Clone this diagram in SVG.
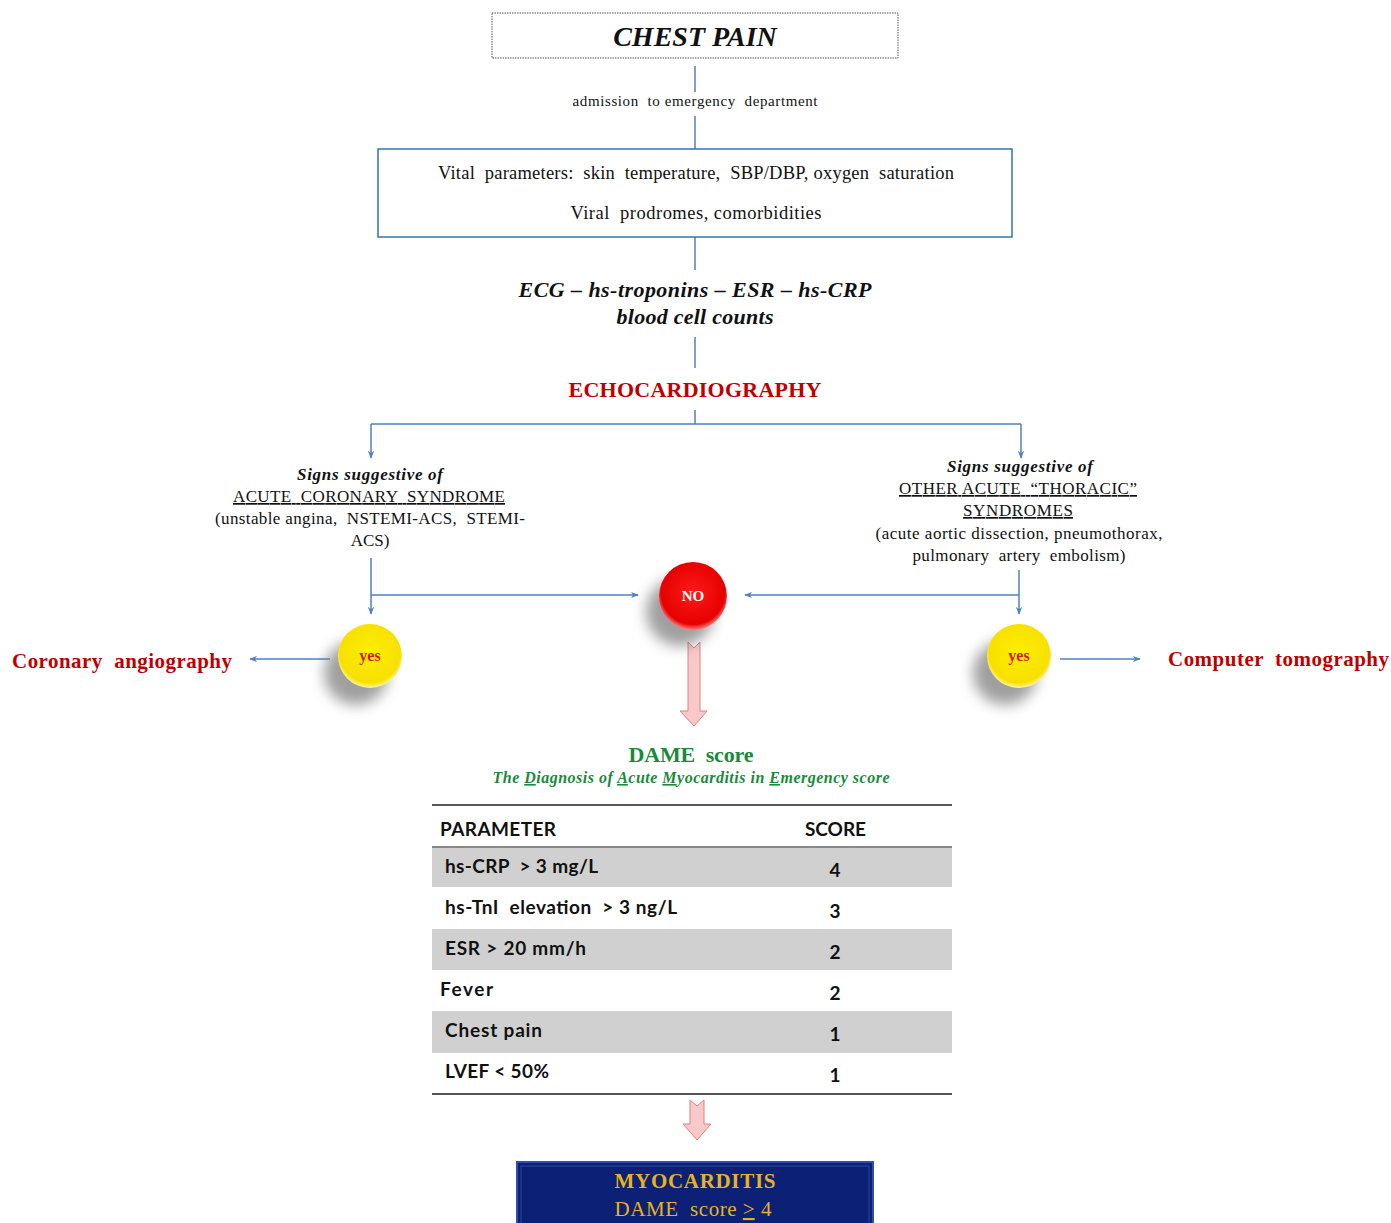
<svg xmlns="http://www.w3.org/2000/svg" width="1391" height="1223" viewBox="0 0 1391 1223">
<style>
text{white-space:pre;}
.serif{font-family:"Liberation Serif","Times New Roman",serif;}
.conn{stroke:#4f81bd;stroke-width:1.5;fill:none;}
.bi{font-weight:bold;font-style:italic;}
.b{font-weight:bold;}
.tbl{font-family:Lato,"Open Sans",sans-serif;font-weight:bold;font-size:19px;fill:#111;}
.red{fill:#c00000;}
.green{fill:#1a8a3a;}
.gold{fill:#e6b422;}
.pink{fill:#f9c9c9;stroke:#e08080;stroke-width:1;}
</style>
<defs>
<marker id="ah" viewBox="0 0 10 10" refX="9" refY="5" markerWidth="8" markerHeight="8" orient="auto" markerUnits="userSpaceOnUse">
<path d="M0,1 L10,5 L0,9 L3,5 z" fill="#4f81bd"/>
</marker>
<filter id="shadow" x="-80%" y="-80%" width="260%" height="260%">
<feGaussianBlur stdDeviation="7"/>
</filter>
<radialGradient id="gRed" cx="0.5" cy="0.45" r="0.55">
<stop offset="0" stop-color="#ff1a1a"/>
<stop offset="0.85" stop-color="#e60000"/>
<stop offset="1" stop-color="#ff8080"/>
</radialGradient>
<radialGradient id="gYel" cx="0.5" cy="0.45" r="0.55">
<stop offset="0" stop-color="#ffee00"/>
<stop offset="0.85" stop-color="#f7e000"/>
<stop offset="1" stop-color="#fff59a"/>
</radialGradient>
<linearGradient id="gPink" x1="0" y1="0" x2="1" y2="0">
<stop offset="0" stop-color="#fbe0e0"/>
<stop offset="0.5" stop-color="#f6b8b8"/>
<stop offset="1" stop-color="#fbe0e0"/>
</linearGradient>
</defs>

<rect width="1391" height="1223" fill="#ffffff"/>

<g id="connectors">
<line class="conn" x1="695" y1="66" x2="695" y2="92"/>
<line class="conn" x1="695" y1="116" x2="695" y2="149"/>
<line class="conn" x1="695" y1="237" x2="695" y2="270"/>
<line class="conn" x1="695" y1="337" x2="695" y2="368"/>
<line class="conn" x1="695" y1="410" x2="695" y2="424"/>
<line class="conn" x1="371" y1="424" x2="1021" y2="424"/>
<line class="conn" x1="371" y1="424" x2="371" y2="458" marker-end="url(#ah)"/>
<line class="conn" x1="1021" y1="424" x2="1021" y2="458" marker-end="url(#ah)"/>
<line class="conn" x1="371" y1="558" x2="371" y2="614" marker-end="url(#ah)"/>
<line class="conn" x1="371" y1="595" x2="638" y2="595" marker-end="url(#ah)"/>
<line class="conn" x1="1019" y1="570" x2="1019" y2="614" marker-end="url(#ah)"/>
<line class="conn" x1="1019" y1="595" x2="745" y2="595" marker-end="url(#ah)"/>
<line class="conn" x1="330" y1="659" x2="250" y2="659" marker-end="url(#ah)"/>
<line class="conn" x1="1060" y1="659" x2="1140" y2="659" marker-end="url(#ah)"/>
<path class="pink" fill="url(#gPink)" d="M688,642 L694,648 L700,642 L700,711 L707,711 L694,726 L680,711 L688,711 Z"/>
<path class="pink" fill="url(#gPink)" d="M690,1100 L697,1106 L704,1100 L704,1124 L711,1124 L697,1140 L683,1124 L690,1124 Z"/>
</g>

<g id="chest-pain">
<rect x="492" y="13" width="406" height="45" fill="#fff" stroke="#555" stroke-width="1" stroke-dasharray="1.5,1"/>
<text class="serif bi" x="695" y="46" font-size="28" text-anchor="middle" fill="#111">CHEST PAIN</text>
</g>

<g id="admission">
<text class="serif" x="695" y="106" font-size="15" text-anchor="middle" fill="#111" textLength="245" lengthAdjust="spacing">admission  to emergency  department</text>
</g>

<g id="vital">
<rect x="378" y="149" width="634" height="88" fill="#fff" stroke="#2e75b6" stroke-width="1.5"/>
<text class="serif" x="696" y="179" font-size="18.5" text-anchor="middle" fill="#111" textLength="516" lengthAdjust="spacing">Vital  parameters:  skin  temperature,  SBP/DBP, oxygen  saturation</text>
<text class="serif" x="696" y="219" font-size="18.5" text-anchor="middle" fill="#111" textLength="251" lengthAdjust="spacing">Viral  prodromes, comorbidities</text>
</g>

<g id="tests">
<text class="serif bi" x="695" y="297" font-size="22" text-anchor="middle" fill="#111" textLength="353" lengthAdjust="spacing">ECG – hs-troponins – ESR – hs-CRP</text>
<text class="serif bi" x="695" y="324" font-size="22" text-anchor="middle" fill="#111" textLength="157" lengthAdjust="spacing">blood cell counts</text>
</g>

<g id="echo">
<text class="serif b red" x="695" y="397" font-size="22" text-anchor="middle" textLength="253" lengthAdjust="spacing">ECHOCARDIOGRAPHY</text>
</g>

<g id="acs">
<text class="serif bi" x="370" y="480" font-size="17" text-anchor="middle" fill="#111" textLength="146" lengthAdjust="spacing">Signs suggestive of</text>
<text class="serif" x="369" y="502" font-size="17" text-anchor="middle" fill="#111" text-decoration="underline" textLength="272" lengthAdjust="spacing">ACUTE  CORONARY  SYNDROME</text>
<text class="serif" x="370" y="524" font-size="17" text-anchor="middle" fill="#111" textLength="310" lengthAdjust="spacing">(unstable angina,  NSTEMI-ACS,  STEMI-</text>
<text class="serif" x="370" y="546" font-size="17" text-anchor="middle" fill="#111">ACS)</text>
</g>

<g id="other">
<text class="serif bi" x="1020" y="472" font-size="17" text-anchor="middle" fill="#111" textLength="146" lengthAdjust="spacing">Signs suggestive of</text>
<text class="serif" x="1018" y="494" font-size="17" text-anchor="middle" fill="#111" text-decoration="underline" textLength="238" lengthAdjust="spacing">OTHER ACUTE  “THORACIC”</text>
<text class="serif" x="1018" y="516" font-size="17" text-anchor="middle" fill="#111" text-decoration="underline" textLength="110" lengthAdjust="spacing">SYNDROMES</text>
<text class="serif" x="1019" y="539" font-size="17" text-anchor="middle" fill="#111" textLength="287" lengthAdjust="spacing">(acute aortic dissection, pneumothorax,</text>
<text class="serif" x="1019" y="561" font-size="17" text-anchor="middle" fill="#111" textLength="213" lengthAdjust="spacing">pulmonary  artery  embolism)</text>
</g>

<g id="no">
<circle cx="680" cy="612" r="34" fill="#777" opacity="0.7" filter="url(#shadow)"/>
<circle cx="693" cy="596" r="34" fill="url(#gRed)"/>
<text class="serif b" x="693" y="601" font-size="15" text-anchor="middle" fill="#fff">NO</text>
</g>

<g id="yes-left">
<circle cx="356" cy="673" r="32" fill="#777" opacity="0.7" filter="url(#shadow)"/>
<circle cx="370" cy="656" r="32" fill="url(#gYel)"/>
<text class="serif b" x="370" y="661" font-size="16" text-anchor="middle" fill="#d02010">yes</text>
</g>

<g id="yes-right">
<circle cx="1005" cy="673" r="32" fill="#777" opacity="0.7" filter="url(#shadow)"/>
<circle cx="1019" cy="656" r="32" fill="url(#gYel)"/>
<text class="serif b" x="1019" y="661" font-size="16" text-anchor="middle" fill="#d02010">yes</text>
</g>

<g id="coronary">
<text class="serif b red" x="12" y="668" font-size="21" textLength="220" lengthAdjust="spacing">Coronary  angiography</text>
</g>

<g id="ct">
<text class="serif b red" x="1168" y="666" font-size="21" textLength="221" lengthAdjust="spacing">Computer  tomography</text>
</g>

<g id="dame">
<text class="serif b green" x="691" y="762" font-size="22" text-anchor="middle" textLength="125" lengthAdjust="spacing">DAME  score</text>
<text class="serif bi green" x="691" y="783" font-size="16" text-anchor="middle" textLength="397" lengthAdjust="spacing">The <tspan text-decoration="underline">D</tspan>iagnosis of <tspan text-decoration="underline">A</tspan>cute <tspan text-decoration="underline">M</tspan>yocarditis in <tspan text-decoration="underline">E</tspan>mergency score</text>
</g>

<g id="table">
<rect x="432" y="847" width="520" height="40" fill="#d0d0d0"/>
<rect x="432" y="929" width="520" height="41" fill="#d0d0d0"/>
<rect x="432" y="1011" width="520" height="42" fill="#d0d0d0"/>
<line x1="432" y1="805" x2="952" y2="805" stroke="#222" stroke-width="1.5"/>
<line x1="432" y1="847" x2="952" y2="847" stroke="#888" stroke-width="2"/>
<line x1="432" y1="1094" x2="952" y2="1094" stroke="#555" stroke-width="2"/>
<text class="tbl" x="440" y="836" textLength="116" lengthAdjust="spacing">PARAMETER</text>
<text class="tbl" x="805" y="836" textLength="61" lengthAdjust="spacing">SCORE</text>
<text class="tbl" x="445" y="873" textLength="153" lengthAdjust="spacing">hs-CRP  &gt; 3 mg/L</text>
<text class="tbl" x="835" y="877" text-anchor="middle">4</text>
<text class="tbl" x="445" y="914" textLength="232" lengthAdjust="spacing">hs-TnI  elevation  &gt; 3 ng/L</text>
<text class="tbl" x="835" y="918" text-anchor="middle">3</text>
<text class="tbl" x="445" y="955" textLength="141" lengthAdjust="spacing">ESR &gt; 20 mm/h</text>
<text class="tbl" x="835" y="959" text-anchor="middle">2</text>
<text class="tbl" x="440" y="996" textLength="53" lengthAdjust="spacing">Fever</text>
<text class="tbl" x="835" y="1000" text-anchor="middle">2</text>
<text class="tbl" x="445" y="1037" textLength="97" lengthAdjust="spacing">Chest pain</text>
<text class="tbl" x="835" y="1041" text-anchor="middle">1</text>
<text class="tbl" x="445" y="1078" textLength="104" lengthAdjust="spacing">LVEF &lt; 50%</text>
<text class="tbl" x="835" y="1082" text-anchor="middle">1</text>
</g>

<g id="myocarditis">
<rect x="517" y="1162" width="356" height="70" fill="#0c2075" stroke="#2f4fb0" stroke-width="2"/>
<rect x="521" y="1166" width="348" height="62" fill="none" stroke="#2a45a0" stroke-width="1"/>
<text class="serif b gold" x="695" y="1188" font-size="21" text-anchor="middle" textLength="161" lengthAdjust="spacing">MYOCARDITIS</text>
<text class="serif gold" x="693" y="1216" font-size="21" text-anchor="middle" textLength="157" lengthAdjust="spacing">DAME  score <tspan text-decoration="underline">&gt;</tspan> 4</text>
</g>
</svg>
